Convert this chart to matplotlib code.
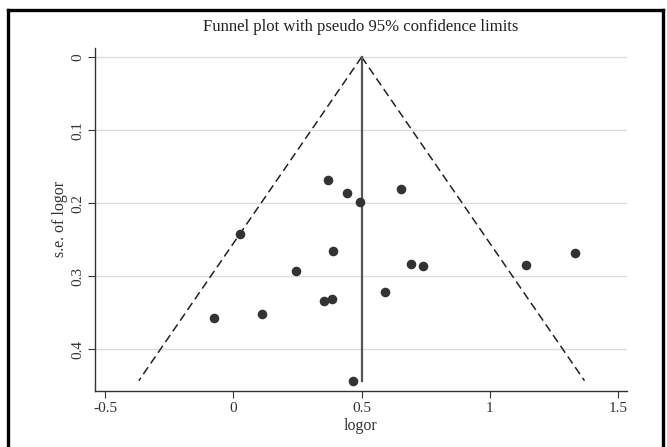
import numpy as np
import matplotlib
matplotlib.use('Agg')
import matplotlib.pyplot as plt
from matplotlib.lines import Line2D

plt.rcParams['font.family'] = ['Liberation Serif', 'DejaVu Serif']

# Study estimates (log odds ratio) and standard errors
logor = [0.368, 0.442, 0.494, 0.027, 0.390, 0.244, 0.355, 0.383, -0.074,
         0.113, 0.468, 0.592, 0.655, 0.691, 0.740, 1.142, 1.333]
se_logor = [0.169, 0.186, 0.199, 0.242, 0.265, 0.293, 0.334, 0.331, 0.357,
            0.352, 0.443, 0.322, 0.180, 0.283, 0.286, 0.285, 0.268]
pooled = 0.5
xticks = [-0.5, 0, 0.5, 1, 1.5]
xticklabels = ['-0.5', '0', '0.5', '1', '1.5']
yticks = [0, 0.1, 0.2, 0.3, 0.4]
yticklabels = ['0', '0.1', '0.2', '0.3', '0.4']

fig = plt.figure(figsize=(6.67, 4.47), dpi=100)
ax = fig.add_axes([95 / 667, 1 - 390.7 / 447, (627 - 95) / 667, (390.7 - 48) / 447])

ax.set_xlim(-0.539, 1.534)
ax.set_ylim(0.4567, -0.0123)

# gridlines
for yv in yticks:
    ax.axhline(yv, color='#dcdcdc', lw=1.0, zorder=0)

# pseudo 95% limits
se_max = max(se_logor)
se_line = np.array([0, se_max])
ax.plot(pooled - 1.96 * se_line, se_line, color='#222222', lw=1.1,
        dashes=(5.5, 3), zorder=2)
ax.plot(pooled + 1.96 * se_line, se_line, color='#222222', lw=1.1,
        dashes=(5.5, 3), zorder=2)
ax.plot([pooled, pooled], se_line, color='#555555', lw=1.6, zorder=2)

ax.scatter(logor, se_logor, s=48, color='#333333', zorder=3, linewidths=0)

for side in ['top', 'right']:
    ax.spines[side].set_visible(False)
for side in ['left', 'bottom']:
    ax.spines[side].set_color('#333333')
    ax.spines[side].set_linewidth(1.0)

ax.set_xticks(xticks)
ax.set_xticklabels(xticklabels)
ax.set_yticks(yticks)
ax.set_yticklabels(yticklabels, rotation=90, va='center')
ax.tick_params(axis='both', labelsize=11, length=5, color='#333333',
               labelcolor='#333333', pad=3)

ax.set_xlabel('logor', fontsize=11.5, color='#333333', labelpad=2)
ax.set_ylabel('s.e. of logor', fontsize=11.5, color='#333333', labelpad=2)
ax.set_title('Funnel plot with pseudo 95% confidence limits', fontsize=12,
             color='#222222', pad=12)

# outer frame
frame_kw = dict(color='black', lw=2.4, transform=fig.transFigure, clip_on=False)
fig.add_artist(Line2D([8 / 667, 8 / 667], [0, 1 - 10 / 447], **frame_kw))
fig.add_artist(Line2D([8 / 667, 663 / 667], [1 - 10 / 447, 1 - 10 / 447], **frame_kw))
fig.add_artist(Line2D([663 / 667, 663 / 667], [0, 1 - 10 / 447], **frame_kw))

fig.savefig('out.png', dpi=100, facecolor='white')
